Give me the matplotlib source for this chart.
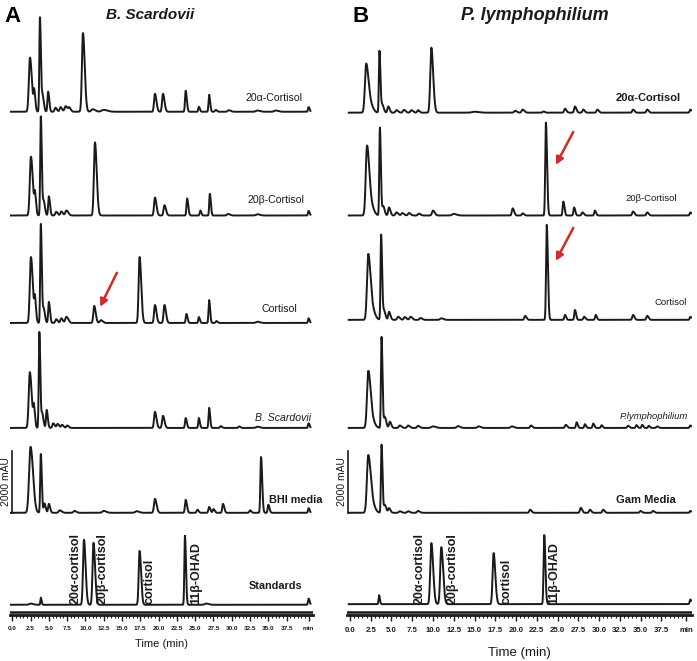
import numpy as np
import matplotlib
matplotlib.use('Agg')
from matplotlib import pyplot as plt

# peak tables: (retention time [min], height [mAU], width [min])
A_20a = [(2.42, 1750, 0.15), (3.0, 620, 0.09), (3.78, 3050, 0.08), (4.15, 500, 0.1), (4.9, 650, 0.09),
         (5.9, 130, 0.12), (6.6, 150, 0.12), (7.3, 180, 0.15), (7.8, 120, 0.12), (9.66, 2540, 0.14),
         (11.0, 80, 0.2), (12.5, 60, 0.3), (19.5, 580, 0.12), (20.6, 580, 0.12), (23.7, 680, 0.09),
         (25.5, 160, 0.08), (26.9, 550, 0.08), (27.8, 60, 0.1), (29.6, 50, 0.15), (33.5, 40, 0.2),
         (36.0, 40, 0.2), (40.5, 150, 0.08)]
A_20b = [(2.55, 1900, 0.15), (3.1, 620, 0.09), (3.9, 3200, 0.08), (4.3, 450, 0.1), (5.0, 620, 0.09),
         (6.0, 120, 0.12), (6.7, 130, 0.12), (7.4, 160, 0.15), (11.3, 2360, 0.14), (19.5, 580, 0.12),
         (20.8, 330, 0.12), (23.9, 550, 0.09), (25.7, 160, 0.08), (27.0, 700, 0.08), (29.5, 50, 0.15),
         (33.5, 40, 0.2), (40.5, 150, 0.08)]
A_cort = [(2.55, 2130, 0.15), (3.1, 700, 0.09), (3.9, 3200, 0.08), (4.3, 450, 0.1), (5.0, 680, 0.09),
          (6.0, 120, 0.12), (6.7, 150, 0.12), (7.4, 200, 0.15), (11.2, 550, 0.12), (12.1, 90, 0.15),
          (17.4, 2130, 0.13), (19.5, 580, 0.12), (20.8, 580, 0.12), (23.8, 290, 0.09), (25.5, 190, 0.08),
          (26.9, 740, 0.08), (27.9, 60, 0.1), (33.5, 40, 0.2), (40.5, 150, 0.08)]
A_bsc = [(2.4, 1800, 0.15), (2.95, 620, 0.09), (3.7, 3100, 0.08), (4.1, 450, 0.1), (4.7, 580, 0.09),
         (5.6, 150, 0.12), (6.2, 130, 0.12), (6.8, 100, 0.12), (7.5, 80, 0.12), (19.5, 520, 0.12),
         (20.6, 390, 0.12), (23.7, 320, 0.09), (25.5, 320, 0.08), (26.9, 650, 0.08), (28.5, 60, 0.1),
         (31.0, 50, 0.1), (33.5, 40, 0.2), (40.5, 150, 0.08)]
A_bhi = [(2.5, 2130, 0.2), (3.9, 1900, 0.08), (4.4, 300, 0.1), (5.0, 290, 0.1), (6.5, 80, 0.15),
         (8.5, 60, 0.15), (12.5, 60, 0.2), (17.0, 50, 0.2), (19.5, 450, 0.13), (23.7, 420, 0.1),
         (25.3, 100, 0.1), (26.9, 190, 0.1), (27.5, 120, 0.1), (28.8, 290, 0.1), (32.5, 80, 0.1),
         (34.0, 1800, 0.09), (35.0, 260, 0.09), (40.5, 150, 0.08)]
A_std = [(2.5, 40, 0.2), (3.9, 230, 0.06), (9.8, 2100, 0.13), (11.1, 2000, 0.13), (17.4, 1740, 0.12),
         (23.6, 2230, 0.08), (26.5, 40, 0.2), (40.5, 200, 0.08)]

B_20a = [(1.95, 1560, 0.15), (2.4, 300, 0.2), (3.55, 2000, 0.07), (3.9, 250, 0.1), (4.6, 200, 0.1),
         (5.6, 80, 0.12), (6.5, 90, 0.12), (7.4, 80, 0.12), (8.2, 80, 0.1), (9.8, 2100, 0.13),
         (15.0, 30, 0.3), (19.9, 60, 0.12), (20.8, 100, 0.12), (23.3, 40, 0.1), (25.9, 130, 0.1),
         (27.1, 200, 0.1), (28.1, 100, 0.1), (29.8, 100, 0.1), (34.1, 100, 0.1), (35.8, 100, 0.1),
         (41.0, 100, 0.08)]
B_20b = [(2.05, 2230, 0.15), (2.5, 350, 0.2), (3.6, 2840, 0.07), (4.0, 300, 0.1), (4.7, 260, 0.1),
         (5.6, 100, 0.12), (6.3, 80, 0.12), (7.1, 80, 0.12), (8.3, 60, 0.12), (10.0, 160, 0.12),
         (12.5, 50, 0.2), (19.6, 230, 0.1), (20.8, 70, 0.1), (23.6, 3000, 0.08), (25.7, 450, 0.08),
         (27.0, 260, 0.08), (28.0, 100, 0.1), (29.5, 160, 0.08), (34.1, 130, 0.1), (35.8, 100, 0.1),
         (41.0, 100, 0.08)]
B_cort = [(2.2, 2100, 0.15), (2.65, 350, 0.2), (3.75, 2750, 0.07), (4.1, 300, 0.1), (4.7, 260, 0.1),
          (5.8, 100, 0.12), (6.6, 90, 0.12), (7.3, 100, 0.12), (8.5, 60, 0.12), (11.0, 50, 0.15),
          (21.1, 130, 0.1), (23.7, 3070, 0.08), (25.9, 160, 0.08), (27.1, 320, 0.08), (28.2, 100, 0.1),
          (29.6, 160, 0.08), (34.1, 160, 0.1), (35.8, 130, 0.1), (41.0, 100, 0.08)]
B_plym = [(2.2, 1800, 0.15), (2.6, 300, 0.2), (3.8, 2940, 0.07), (4.2, 350, 0.1), (4.8, 200, 0.1),
          (6.0, 80, 0.12), (7.0, 80, 0.12), (8.2, 70, 0.12), (10.0, 50, 0.2), (13.0, 60, 0.15),
          (15.5, 50, 0.15), (19.5, 50, 0.15), (21.8, 80, 0.1), (26.0, 100, 0.1), (27.3, 180, 0.08),
          (28.3, 120, 0.08), (29.3, 140, 0.08), (30.3, 90, 0.08), (33.5, 70, 0.1), (34.5, 90, 0.08),
          (35.2, 100, 0.08), (36.0, 70, 0.08), (37.0, 50, 0.1), (41.0, 80, 0.08)]
B_gam = [(2.2, 1840, 0.16), (2.65, 300, 0.2), (3.8, 2200, 0.07), (4.2, 250, 0.1), (4.7, 150, 0.1),
         (6.0, 50, 0.12), (7.0, 50, 0.12), (8.2, 60, 0.12), (21.7, 100, 0.1), (27.8, 160, 0.1),
         (28.9, 100, 0.1), (30.5, 100, 0.1), (35.0, 60, 0.1), (36.5, 60, 0.1), (41.0, 60, 0.08)]
B_std = [(3.5, 290, 0.06), (9.8, 1970, 0.13), (11.0, 1840, 0.13), (17.3, 1650, 0.12),
         (23.4, 2230, 0.08), (41.0, 150, 0.08)]

A_names = ['20α-Cortisol', '20β-Cortisol', 'Cortisol', 'B. Scardovii', 'BHI media', 'Standards']
B_names = ['20α-Cortisol', '20β-Cortisol', 'Cortisol', 'P.lymphophilium', 'Gam Media', None]
std_names = ['20α-cortisol', '20β-cortisol', 'cortisol', '11β-OHAD']

ARIAL = ['Liberation Sans', 'DejaVu Sans']
RED = '#d42a2a'
INK = '#1a1a1a'


def trace(t, peaks, tail=1.7):
    y = np.zeros_like(t)
    for rt, h, w in peaks:
        s = np.where(t < rt, w, w * tail)
        y += h * np.exp(-0.5 * ((t - rt) / s) ** 2)
    return y


def draw_panel(ax, traces, offsets, t0, t1, tick_fs, pad):
    t = np.linspace(t0, t1, 5000)
    for peaks, off in zip(traces, offsets):
        ax.plot(t, trace(t, peaks) + off, color=INK, lw=1.4, solid_joinstyle='round')
    ax.axhline(113, color=INK, lw=1.8)
    for s in ['top', 'right', 'left']:
        ax.spines[s].set_visible(False)
    ax.spines['bottom'].set_linewidth(2.0)
    ax.spines['bottom'].set_color(INK)
    ax.set_yticks([])
    ax.set_ylim(0, 19600)
    major = list(np.arange(0, 38, 2.5)) + [40.5]
    ax.set_xticks(major)
    ax.set_xticklabels([f'{v:.1f}' for v in major[:-1]] + ['min'], fontsize=tick_fs,
                       family=ARIAL, fontweight='bold')
    ax.set_xticks(np.arange(0, 41, 0.5), minor=True)
    ax.tick_params(axis='x', which='major', length=4, width=1, pad=pad, color=INK, labelcolor=INK)
    ax.tick_params(axis='x', which='minor', length=2.5, width=0.8, color=INK)


fig = plt.figure(figsize=(6.97, 6.61), dpi=100)
H = (615 - 8) / 661
axA = fig.add_axes([10 / 697, 46 / 661, 303 / 697, H])
axB = fig.add_axes([347 / 697, 46 / 661, 345 / 697, H])
axA.set_xlim(-0.31, 41.1)
axB.set_xlim(-0.36, 41.2)

offA = [16250, 12900, 9430, 6040, 3300, 330]
offB = [16220, 12900, 9530, 6040, 3300, 350]

draw_panel(axA, [A_20a, A_20b, A_cort, A_bsc, A_bhi, A_std], offA, -0.3, 40.75, 4.6, 4)
draw_panel(axB, [B_20a, B_20b, B_cort, B_plym, B_gam, B_std], offB, -0.15, 41.1, 5.6, 5)

# trace labels
a_lab = [(39.7, 450, 7.6, 'normal', 'normal'), (39.9, 500, 7.6, 'normal', 'normal'),
         (39.0, 450, 7.6, 'normal', 'normal'), (40.9, 320, 7.6, 'normal', 'italic'),
         (42.4, 415, 7.8, 'bold', 'normal'), (39.7, 600, 7.8, 'bold', 'normal')]
for name, off, (x, dy, fs, fw, st) in zip(A_names, offA, a_lab):
    axA.text(x, off + dy, name, ha='right', va='center', fontsize=fs, fontweight=fw,
             style=st, family=ARIAL, color=INK, clip_on=False)
b_lab = [(39.8, 480, 8, 'bold', 'normal'), (39.4, 540, 6.8, 'normal', 'normal'),
         (40.6, 550, 6.8, 'normal', 'normal'), (40.7, 355, 6.8, 'normal', 'italic'),
         (39.2, 415, 8, 'bold', 'normal')]
for name, off, (x, dy, fs, fw, st) in zip(B_names, offB, b_lab):
    axB.text(x, off + dy, name, ha='right', va='center', fontsize=fs, fontweight=fw,
             style=st, family=ARIAL, color=INK, clip_on=False)

# vertical standard labels
for ax, xs, off in [(axA, [8.6, 12.4, 18.8, 25.2], offA[-1]), (axB, [8.4, 12.4, 18.9, 24.6], offB[-1])]:
    for x, name in zip(xs, std_names):
        ax.text(x, off + 20, name, rotation=90, ha='center', va='bottom', fontsize=9,
                fontweight='bold', family=ARIAL, color=INK)

# 2000 mAU scale bars
for ax, xb, xt in [(axA, -0.04, -0.85), (axB, -0.24, -0.95)]:
    ax.plot([xb, xb], [3300, 5300], color=INK, lw=1.2, clip_on=False)
    ax.text(xt, 4300, '2000 mAU', rotation=90, ha='center', va='center', fontsize=7.5,
            family=ARIAL, color=INK, clip_on=False)

# arrows
arrow = dict(arrowstyle='-|>', color=RED, lw=1.8, mutation_scale=11, shrinkA=0, shrinkB=0)
axA.annotate('', xy=(12.0, 9950), xytext=(14.3, 11050), arrowprops=arrow)
axB.annotate('', xy=(24.8, 14535), xytext=(26.9, 15600), arrowprops=arrow)
axB.annotate('', xy=(24.8, 11434), xytext=(26.9, 12500), arrowprops=arrow)

axA.set_xlabel('Time (min)', fontsize=8, family=ARIAL, labelpad=6, color=INK)
axB.set_xlabel('Time (min)', fontsize=9.5, family=ARIAL, labelpad=9, color=INK)

fig.text(4 / 697, 1 - 16 / 661, 'A', fontsize=16, fontweight='bold', family=ARIAL, va='center')
fig.text(352 / 697, 1 - 16 / 661, 'B', fontsize=16, fontweight='bold', family=ARIAL, va='center')
fig.text(150 / 697, 1 - 15 / 661, 'B. Scardovii', fontsize=11, style='italic', fontweight='bold',
         family=ARIAL, ha='center', va='center', color=INK)
fig.text(535 / 697, 1 - 15 / 661, 'P. lymphophilium', fontsize=13, style='italic',
         fontweight='bold', family=ARIAL, ha='center', va='center', color=INK)

fig.savefig('out.png', dpi=100)
